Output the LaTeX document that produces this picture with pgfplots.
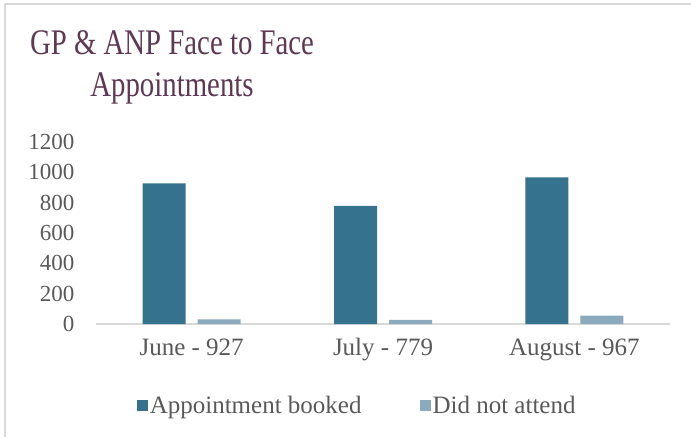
\documentclass[border=0pt]{standalone}
\usepackage{pgfplots}
\pgfplotsset{compat=1.18}
\usepackage{fontspec}
\usepackage{graphicx}
\setmainfont{Liberation Serif}
\definecolor{booked}{HTML}{35728E}
\definecolor{dna}{HTML}{8BAABE}
\definecolor{titlec}{HTML}{5E3855}
\definecolor{txt}{HTML}{595959}
\definecolor{frame}{HTML}{D9D9D9}
\begin{document}
\begin{tikzpicture}[x=1pt,y=1pt]
\path[use as bounding box] (0,0) rectangle (691,437);
\coordinate (A) at (96,113);
\draw[frame,line width=1.5pt] (5,0) -- (5,433) -- (691,433);
\node[anchor=base,text=titlec,inner sep=0] at (172,382) {\scalebox{0.8}[1]{\fontsize{36}{40}\selectfont GP \& ANP Face to Face}};
\node[anchor=base,text=titlec,inner sep=0] at (172,340) {\scalebox{0.8}[1]{\fontsize{36}{40}\selectfont Appointments}};
\begin{axis}[
  at={(A)}, anchor=south west,
  scale only axis, width=574pt, height=182pt,
  xmin=-0.5, xmax=2.5, ymin=0, ymax=1200,
  ybar=12pt, bar width=43pt,
  axis x line*=bottom, axis y line=none,
  x axis line style={frame,line width=1.5pt,-},
  xtick={0,1,2}, xticklabels={June - 927, July - 779, August - 967},
  ytick={0,200,400,600,800,1000,1200},
  major tick length=0pt,
  /pgf/number format/assume math mode=true,
  /pgf/number format/1000 sep={},
  xticklabel style={font=\fontsize{25}{28}\selectfont, text=txt, yshift=-11pt},
  yticklabel style={font=\fontsize{23}{26}\selectfont, text=txt, xshift=-18pt},
  hide y axis=false,
  separate axis lines,
  y axis line style={draw=none},
  legend columns=2,
  legend style={at={(0.455,-0.45)}, anchor=center, draw=none, fill=none,
    font=\fontsize{25}{28}\selectfont, text=txt,
    /tikz/every even column/.append style={column sep=56pt}},
  legend image code/.code={\fill[#1,draw=none] (0pt,-5pt) rectangle (11pt,6pt);},
]
\addplot[fill=booked, draw=none] coordinates {(0,927) (1,779) (2,967)};
\addplot[fill=dna, draw=none] coordinates {(0,30) (1,28) (2,55)};
\legend{Appointment booked, Did not attend}
\end{axis}
\end{tikzpicture}
\end{document}
